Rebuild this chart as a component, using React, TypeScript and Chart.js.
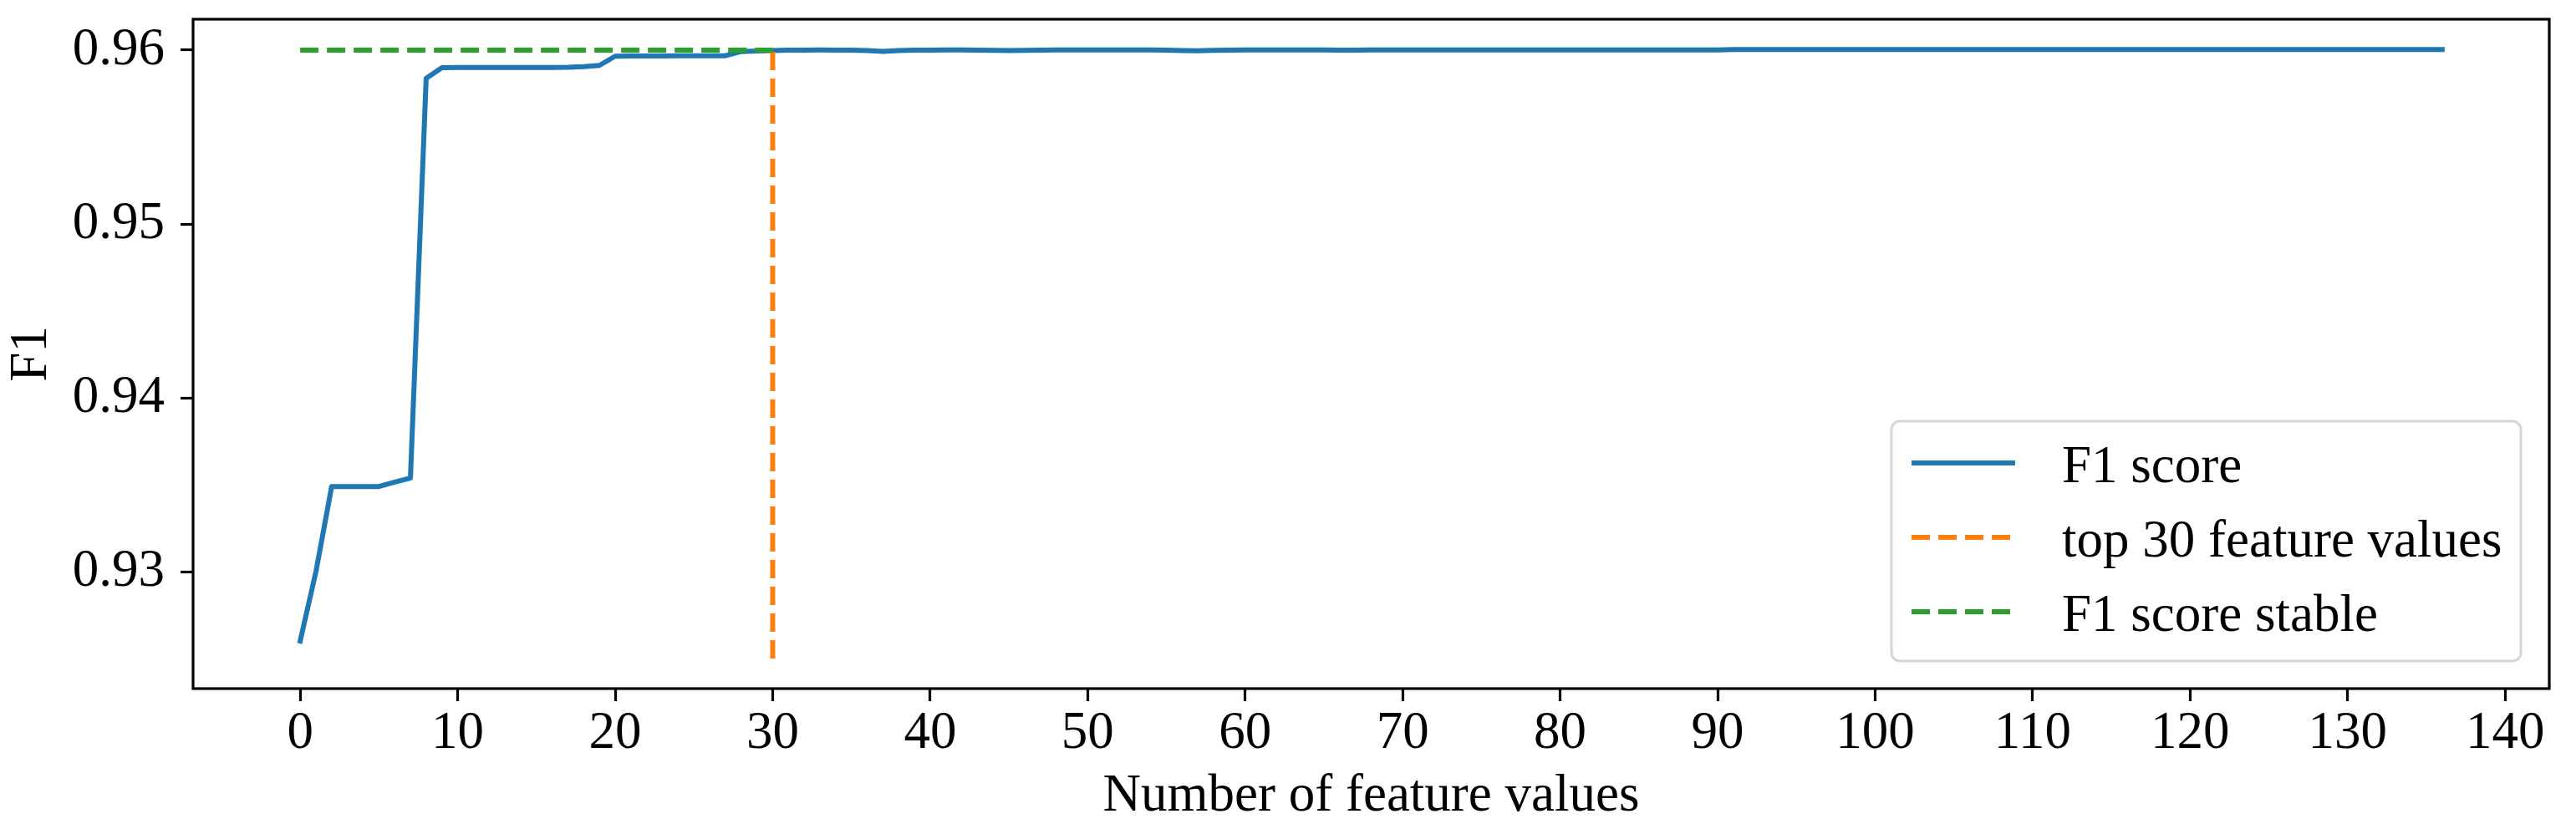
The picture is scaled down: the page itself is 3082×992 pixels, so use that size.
import React, { useEffect, useRef } from "react";
import { Chart, registerables } from "chart.js";

Chart.register(...registerables);

// ---------- data ----------
const f1Scores: number[] = [
  0.92601, 0.93, 0.9349, 0.9349, 0.9349, 0.9349, 0.93515, 0.93538, 0.95838, 0.95899,
  0.959, 0.959, 0.959, 0.959, 0.959, 0.959, 0.959, 0.95901, 0.95905, 0.95912,
  0.95965, 0.95966, 0.95966, 0.95966, 0.95967, 0.95967, 0.95967, 0.95968, 0.95992, 0.95995,
  0.95997, 0.96, 0.96, 0.96001, 0.96, 0.96, 0.95998, 0.95993, 0.95998, 0.96,
  0.96, 0.96001, 0.96001, 0.96, 0.95999, 0.95997, 0.95999, 0.96, 0.96001, 0.96001,
  0.96001, 0.96001, 0.96001, 0.96001, 0.96001, 0.96, 0.95998, 0.95996, 0.95999, 0.96,
  0.96001, 0.96001, 0.96001, 0.96001, 0.96001, 0.96001, 0.96, 0.96, 0.96001, 0.96001,
  0.96001, 0.96001, 0.96001, 0.96001, 0.96001, 0.96001, 0.96001, 0.96001, 0.96001, 0.96001,
  0.96001, 0.96001, 0.96001, 0.96001, 0.96001, 0.96001, 0.96001, 0.96001, 0.96001, 0.96001,
  0.96001, 0.96003, 0.96003, 0.96003, 0.96003, 0.96003, 0.96003, 0.96003, 0.96003, 0.96003,
  0.96003, 0.96003, 0.96003, 0.96003, 0.96003, 0.96003, 0.96003, 0.96003, 0.96003, 0.96003,
  0.96003, 0.96003, 0.96003, 0.96003, 0.96003, 0.96003, 0.96003, 0.96003, 0.96003, 0.96003,
  0.96003, 0.96003, 0.96003, 0.96003, 0.96003, 0.96003, 0.96003, 0.96003, 0.96003, 0.96003,
  0.96003, 0.96003, 0.96003, 0.96003, 0.96003, 0.96003, 0.96003,
];
const topFeatureX: number[] = [30, 30];
const topFeatureY: number[] = [0.925, 0.96];
const stableX: number[] = [0, 30];
const stableY: number[] = [0.96, 0.96];

const xTickValues: number[] = [0, 10, 20, 30, 40, 50, 60, 70, 80, 90, 100, 110, 120, 130, 140];
const yTickValues: number[] = [0.93, 0.94, 0.95, 0.96];

const seriesLabels: string[] = ["F1 score", "top 30 feature values", "F1 score stable"];
const xTitle = "Number of feature values";
const yTitle = "F1";

// ---------- style ----------
const FONT = "'Liberation Serif', 'Times New Roman', serif";
const FS = 63;
const BLUE = "#1f77b4";
const ORANGE = "#ff7f0e";
const GREEN = "#2ca02c";
const DASH = [22, 10];
const legendDashes: number[][] = [
  [124, 10000],
  [22, 10, 22, 10, 22, 10, 22, 10000],
  [22, 10, 22, 10, 22, 10, 22, 10000],
];

const framePlugin = {
  id: "frameAndLegendPlacement",
  afterLayout(chart: any) {
    const lg = chart.legend;
    const ca = chart.chartArea;
    if (!lg || !ca) return;
    const right = ca.right - 34;
    const bottom = ca.bottom - 33;
    const left = right - 753;
    const top = bottom - 287;
    lg.left = left - 2;
    lg.top = top - 1.5;
    lg.right = ca.right;
    lg.bottom = ca.bottom;
    lg.width = lg.right - lg.left;
    lg.height = lg.bottom - lg.top;
    chart.$legendFrame = { left, top, right, bottom };
  },
  afterDraw(chart: any) {
    const ctx = chart.ctx;
    const ca = chart.chartArea;
    ctx.save();
    const f = chart.$legendFrame;
    if (f) {
      ctx.beginPath();
      if (ctx.roundRect) ctx.roundRect(f.left, f.top, f.right - f.left, f.bottom - f.top, 10);
      else ctx.rect(f.left, f.top, f.right - f.left, f.bottom - f.top);
      ctx.strokeStyle = "#d6d6d6";
      ctx.lineWidth = 3;
      ctx.stroke();
    }
    ctx.strokeStyle = "#000";
    ctx.lineWidth = 3.2;
    ctx.strokeRect(ca.left, ca.top, ca.right - ca.left, ca.bottom - ca.top);
    ctx.restore();
  },
};

export default function App() {
  const canvasRef = useRef<HTMLCanvasElement | null>(null);

  useEffect(() => {
    document.body.style.margin = "0";
    const canvas = canvasRef.current;
    if (!canvas) return;

    const tickFont = { family: FONT, size: FS, lineHeight: 1 };

    const chart = new Chart(canvas, {
      type: "line",
      data: {
        datasets: [
          {
            label: seriesLabels[0],
            data: f1Scores.map((v, i) => ({ x: i, y: v })),
            borderColor: BLUE,
            backgroundColor: BLUE,
            borderWidth: 6,
            pointRadius: 0,
            tension: 0,
            borderJoinStyle: "round",
            borderCapStyle: "square",
            order: 2,
          },
          {
            label: seriesLabels[1],
            data: topFeatureX.map((x, i) => ({ x, y: topFeatureY[i] })),
            borderColor: ORANGE,
            backgroundColor: ORANGE,
            borderWidth: 6,
            borderDash: DASH,
            pointRadius: 0,
            order: 1,
          },
          {
            label: seriesLabels[2],
            data: stableX.map((x, i) => ({ x, y: stableY[i] })),
            borderColor: GREEN,
            backgroundColor: GREEN,
            borderWidth: 6,
            borderDash: DASH,
            pointRadius: 0,
            order: 0,
          },
        ],
      },
      options: {
        responsive: false,
        animation: false,
        events: [],
        layout: { padding: { left: 0, top: 23, right: 32, bottom: 0 } },
        scales: {
          x: {
            type: "linear",
            min: -6.8,
            max: 142.8,
            afterBuildTicks: (s: any) => {
              s.ticks = xTickValues.map((v) => ({ value: v }));
            },
            afterFit: (s: any) => {
              s.height = 168;
              s.paddingLeft = 0;
              s.paddingRight = 0;
            },
            ticks: {
              font: tickFont,
              color: "#000",
              padding: 7.5,
              maxRotation: 0,
              minRotation: 0,
              autoSkip: false,
              callback: (v: any) => String(v),
            },
            grid: {
              display: true,
              drawOnChartArea: false,
              drawTicks: true,
              tickLength: 15,
              tickWidth: 3.2,
              tickColor: "#000",
            },
            border: { display: false },
            title: {
              display: true,
              text: xTitle,
              color: "#000",
              font: { family: FONT, size: FS, lineHeight: 1 },
              padding: { top: 0, bottom: 7 },
            },
          },
          y: {
            type: "linear",
            min: 0.923275,
            max: 0.961777,
            afterBuildTicks: (s: any) => {
              s.ticks = yTickValues.map((v) => ({ value: v }));
            },
            afterFit: (s: any) => {
              s.width = 231;
              s.paddingTop = 0;
              s.paddingBottom = 0;
            },
            ticks: {
              font: tickFont,
              color: "#000",
              padding: 19,
              autoSkip: false,
              callback: (v: any) => Number(v).toFixed(2),
            },
            grid: {
              display: true,
              drawOnChartArea: false,
              drawTicks: true,
              tickLength: 15,
              tickWidth: 3.2,
              tickColor: "#000",
            },
            border: { display: false },
            title: {
              display: true,
              text: yTitle,
              color: "#000",
              font: { family: FONT, size: FS, lineHeight: 1 },
              padding: { top: 7, bottom: 0 },
            },
          },
        },
        plugins: {
          tooltip: { enabled: false },
          title: { display: false },
          legend: {
            display: true,
            position: "chartArea" as any,
            align: "start",
            labels: {
              color: "#000",
              font: { family: FONT, size: FS, lineHeight: 1 },
              boxWidth: 148.5,
              boxHeight: 12,
              padding: 26,
              sort: (a: any, b: any) => a.datasetIndex - b.datasetIndex,
              generateLabels: (c: any) => {
                const items = (Chart.defaults.plugins.legend.labels as any).generateLabels(c);
                return items.map((it: any) => ({
                  ...it,
                  fillStyle: "rgba(0,0,0,0)",
                  lineWidth: 6,
                  lineCap: "butt",
                  lineDash: legendDashes[it.datasetIndex],
                }));
              },
            },
          },
        },
      } as any,
      plugins: [framePlugin],
    });

    return () => {
      chart.destroy();
    };
  }, []);

  return (
    <div style={{ position: "absolute", left: 0, top: 0, width: 3082, height: 992, background: "#fff" }}>
      <canvas ref={canvasRef} width={3082} height={992} style={{ display: "block" }} />
    </div>
  );
}
